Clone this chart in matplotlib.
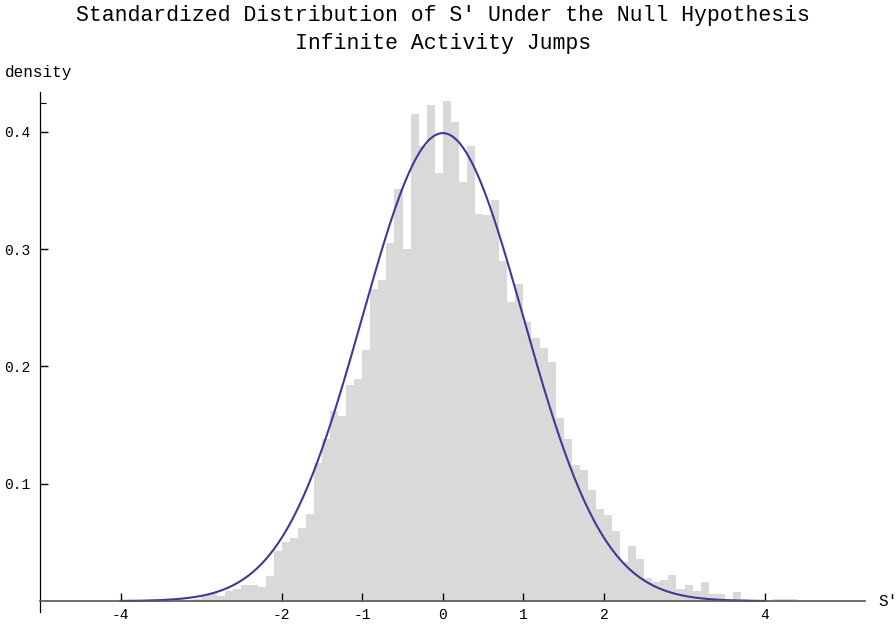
import numpy as np
import matplotlib
matplotlib.use("Agg")
import matplotlib.pyplot as plt
from matplotlib.ticker import FixedLocator

plt.rcParams['font.family'] = ['Liberation Mono', 'DejaVu Sans Mono']

# histogram of S' (bin width 0.1), left edge of first bin = -3.1
bin_width = 0.1
first_edge = -3.1
heights = [0.002, 0.0054, 0.0073, 0.004, 0.009, 0.010, 0.0139, 0.0139, 0.012, 0.0218,
           0.0423, 0.050, 0.054, 0.062, 0.074, 0.118, 0.138, 0.162, 0.158, 0.184,
           0.189, 0.214, 0.266, 0.274, 0.305, 0.351, 0.300, 0.415, 0.388, 0.4225,
           0.365, 0.426, 0.408, 0.357, 0.388, 0.330, 0.329, 0.342, 0.290, 0.2546,
           0.270, 0.238, 0.2247, 0.216, 0.204, 0.156, 0.138, 0.116, 0.112, 0.0943,
           0.0784, 0.0736, 0.060, 0.033, 0.0466, 0.036, 0.0196, 0.0159, 0.018, 0.0222,
           0.0102, 0.0139, 0.0082, 0.0159, 0.006, 0.006, 0.002, 0.008, 0.0017, 0.0,
           0.0, 0.0, 0.002, 0.002, 0.002]

x_ticks = [-4, -2, -1, 0, 1, 2, 4]
y_ticks = [0.1, 0.2, 0.3, 0.4]

lefts = first_edge + bin_width * np.arange(len(heights))

fig = plt.figure(figsize=(8.96, 6.25), dpi=100)
ax = fig.add_axes([40 / 896, 1 - 612 / 625, (865 - 40) / 896, (612 - 92) / 625])

ax.bar(lefts, heights, width=bin_width, align='edge', color='#d9d9d9', linewidth=0)

# standard normal density
xs = np.linspace(-4, 4, 400)
ax.plot(xs, np.exp(-xs ** 2 / 2) / np.sqrt(2 * np.pi), color='#3b3b98', lw=1.5)

ax.set_xlim(-5, 5.24)
ax.set_ylim(-0.0093, 0.434)

for s in ['top', 'right']:
    ax.spines[s].set_visible(False)
ax.spines['bottom'].set_position(('data', 0))
ax.spines['bottom'].set_color('#555555')
ax.spines['bottom'].set_linewidth(1.2)
ax.spines['left'].set_linewidth(0.9)

ax.xaxis.set_major_locator(FixedLocator(x_ticks))
ax.yaxis.set_major_locator(FixedLocator(y_ticks))
ax.yaxis.set_minor_locator(FixedLocator([0.425]))
ax.set_xticklabels([str(t) for t in x_ticks])
ax.set_yticklabels([f'{t:.1f}' for t in y_ticks])
ax.tick_params(axis='x', direction='in', length=6, width=1, color='black',
               labelsize=10.5, pad=5)
ax.tick_params(axis='y', which='major', direction='in', length=6, width=1,
               labelsize=10.5, pad=7)
ax.tick_params(axis='y', which='minor', direction='in', length=4, width=0.8)

fig.text(443 / 896, 1 - 15 / 625, "Standardized Distribution of S' Under the Null Hypothesis",
         ha='center', va='center', fontsize=15.5)
fig.text(443 / 896, 1 - 43 / 625, "Infinite Activity Jumps",
         ha='center', va='center', fontsize=15.5)
fig.text(5 / 896, 1 - 72 / 625, 'density', ha='left', va='center', fontsize=11.5)
fig.text(878 / 896, 1 - 602 / 625, "S'", ha='left', va='center', fontsize=11.5)

fig.savefig('out.png', dpi=100)
